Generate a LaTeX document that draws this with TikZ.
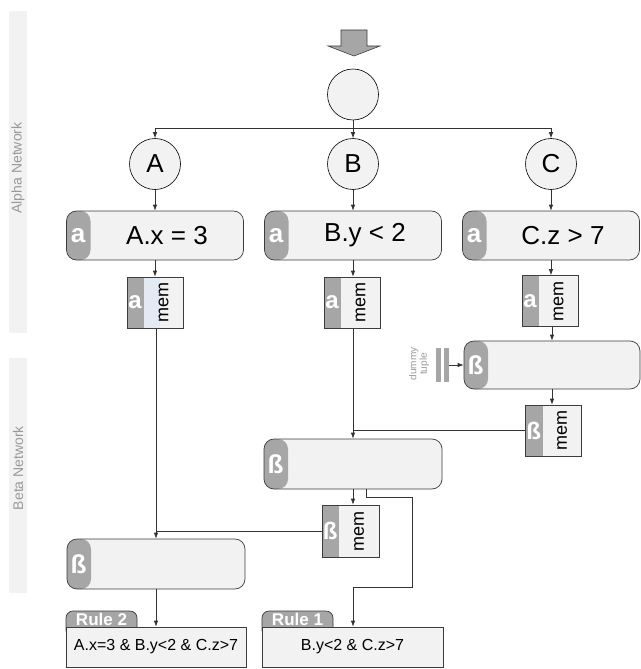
\documentclass[tikz,border=0pt]{standalone}
\usepackage{fontspec}
\setmainfont{Liberation Sans}
\usetikzlibrary{positioning,arrows.meta,backgrounds}
\definecolor{ink}{HTML}{333333}
\definecolor{paleFill}{HTML}{F2F2F2}
\definecolor{tabGray}{HTML}{A6A6A6}
\definecolor{edgeGray}{HTML}{3C3C3C}
\definecolor{bandText}{HTML}{999999}
\definecolor{memBlue}{HTML}{E4EAF4}
\tikzset{
  wire/.style={draw=ink, line width=0.7pt, -{Latex[length=6pt,width=4.5pt]}},
  joinline/.style={draw=ink, line width=0.7pt},
  circ/.style={circle, draw=black, fill=paleFill, line width=0.6pt, minimum size=51pt, inner sep=0pt, font=\fontsize{26}{28}\selectfont},
  tagtxt/.style={font=\bfseries\fontsize{26}{26}\selectfont, text=white, inner sep=0pt},
  cond/.style={draw=edgeGray, line width=0.7pt, fill=paleFill, rounded corners=10pt, minimum width=177pt, minimum height=49pt, inner sep=0pt, font=\fontsize{26}{28}\selectfont,
    path picture={\fill[tabGray] (path picture bounding box.south west) rectangle ([xshift=24pt]path picture bounding box.north west);}},
  alphacond/.style={cond, label={[tagtxt, anchor=center, xshift=12pt]west:a}},
  betajoin/.style={cond, label={[tagtxt, anchor=center, xshift=12pt]west:ß}},
  memcell/.style={draw=edgeGray, line width=0.7pt, fill=paleFill, minimum width=56pt, minimum height=51pt, inner sep=0pt, font=\fontsize{18}{18}\selectfont,
    path picture={\fill[tabGray] (path picture bounding box.south west) rectangle ([xshift=17pt]path picture bounding box.north west);}},
  amem/.style={memcell, label={[tagtxt, font=\bfseries\fontsize{24}{24}\selectfont, anchor=center, xshift=8.5pt]west:a}},
  bmem/.style={memcell, label={[tagtxt, font=\bfseries\fontsize{24}{24}\selectfont, anchor=center, xshift=8.5pt]west:ß}},
  amemhi/.style={amem, path picture={\fill[tabGray] (path picture bounding box.south west) rectangle ([xshift=17pt]path picture bounding box.north west);
    \fill[memBlue] ([xshift=17pt]path picture bounding box.south west) rectangle ([xshift=33pt]path picture bounding box.north west);}},
  bar/.style={fill=tabGray, minimum width=5pt, minimum height=34pt, inner sep=0pt},
  rulebox/.style={draw=edgeGray, line width=0.7pt, fill=paleFill, minimum width=180pt, minimum height=40pt, inner sep=0pt, font=\fontsize{16}{18}\selectfont},
  ruletab/.style={draw=edgeGray, line width=0.7pt, fill=tabGray, rounded corners=7pt, minimum width=71pt, text height=13pt, text depth=11pt, inner ysep=1pt, inner xsep=0pt, text=white, font=\bfseries\fontsize{17}{17}\selectfont},
  bandlbl/.style={rotate=90, text=bandText, font=\fontsize{14}{14}\selectfont, inner sep=0pt},
}
\newcommand{\memtxt}{\hspace*{17pt}\rotatebox{90}{mem}}

\begin{document}
\begin{tikzpicture}[x=1pt, y=-1pt]
\useasboundingbox (0,0) rectangle (640,669);
% side bands
\fill[paleFill] (9,11) rectangle (27,333);
\fill[paleFill] (9,358) rectangle (27,593);
\node[bandlbl] (alphaband) at (18,168) {Alpha Network};
\node[bandlbl] (betaband) at (18,468) {Beta Network};
% entry arrow
\filldraw[fill=tabGray, draw=edgeGray, line width=0.6pt] (341,30) -- (367,30) -- (367,46) -- (380,46) -- (354,56) -- (328,46) -- (341,46) -- cycle;
% alpha network
\node[circ] (root) at (353,94.5) {};
\node[circ] (cA) at (155,164) {A};
\node[circ] (cB) at (353,164) {B};
\node[circ] (cC) at (551,164) {C};
\node[alphacond] (fA) at (155,235.5) {\hspace*{24pt}A.x = 3};
\node[alphacond] (fB) at (353,235.5) {\hspace*{24pt}B.y < 2};
\node[alphacond] (fC) at (551,235.5) {\hspace*{24pt}C.z > 7};
\node[amemhi] (mA) at (155,302.5) {\memtxt};
\node[amem] (mB) at (352,302.5) {\memtxt};
\node[amem] (mC) at (550,301) {\memtxt};
\coordinate (fork) at (353,128);
\draw[wire] (root) -- (cB);
\draw[wire] (fork) -| (cA);
\draw[wire] (fork) -| (cC);
\foreach \k in {A,B,C} {
  \draw[wire] (c\k) -- (f\k);
  \draw[wire] (f\k.south) -- (f\k.south |- m\k.north);
}
% beta network
\node[betajoin, minimum width=176pt, minimum height=48pt] (jC) at (552,365) {};
\node[bmem] (jmC) at (553.5,430.5) {\memtxt};
\node[betajoin, minimum width=178pt, minimum height=50pt] (jB) at (353,464) {};
\node[bmem, minimum width=57pt, minimum height=52pt] (jmB) at (350.5,531) {\memtxt};
\node[betajoin, minimum width=178pt, minimum height=50pt] (jA) at (156,564) {};
\node[bar] (dum1) at (438.5,365) {};
\node[bar] (dum2) at (446,365) {};
\node[rotate=90, align=center, text=bandText, font=\fontsize{10}{10.5}\selectfont, inner sep=0pt] (dumlbl) at (419,364) {dummy\\tuple};
\draw[wire] (dum2.east) -- (jC.west);
\draw[wire] (mC.south -| jC) -- (jC.north);
\draw[wire] (jC.south) -- (jC.south |- jmC.north);
\draw[joinline] (jmC.west) -- (jmC.west -| cB);
\draw[wire] (mB.south -| cB) -- (jB.north -| cB);
\draw[wire] (jB.south -| cB) -- (jmB.north -| cB);
\draw[joinline] (jmB.west) -- (jmB.west -| jA);
\draw[wire] (mA.south -| jA) -- (jA.north);
% rules
\node[rulebox] (rule2) at (156,647) {A.x=3 \& B.y<2 \& C.z>7};
\node[rulebox, minimum width=181pt] (rule1) at (352.5,647) {B.y<2 \& C.z>7};
\begin{scope}[on background layer]
\node[ruletab, anchor=north west] (tab2) at ([yshift=16pt]rule2.north west) {Rule 2};
\node[ruletab, anchor=north west] (tab1) at ([yshift=16pt]rule1.north west) {Rule 1};
\end{scope}
\draw[wire] (jA.south) -- (jA.south |- rule2.north);
\draw[wire] ([xshift=13pt]jB.south) -- ++(0,8) -| ++(46,90) -| (rule1.north -| cB);
\end{tikzpicture}
\end{document}
